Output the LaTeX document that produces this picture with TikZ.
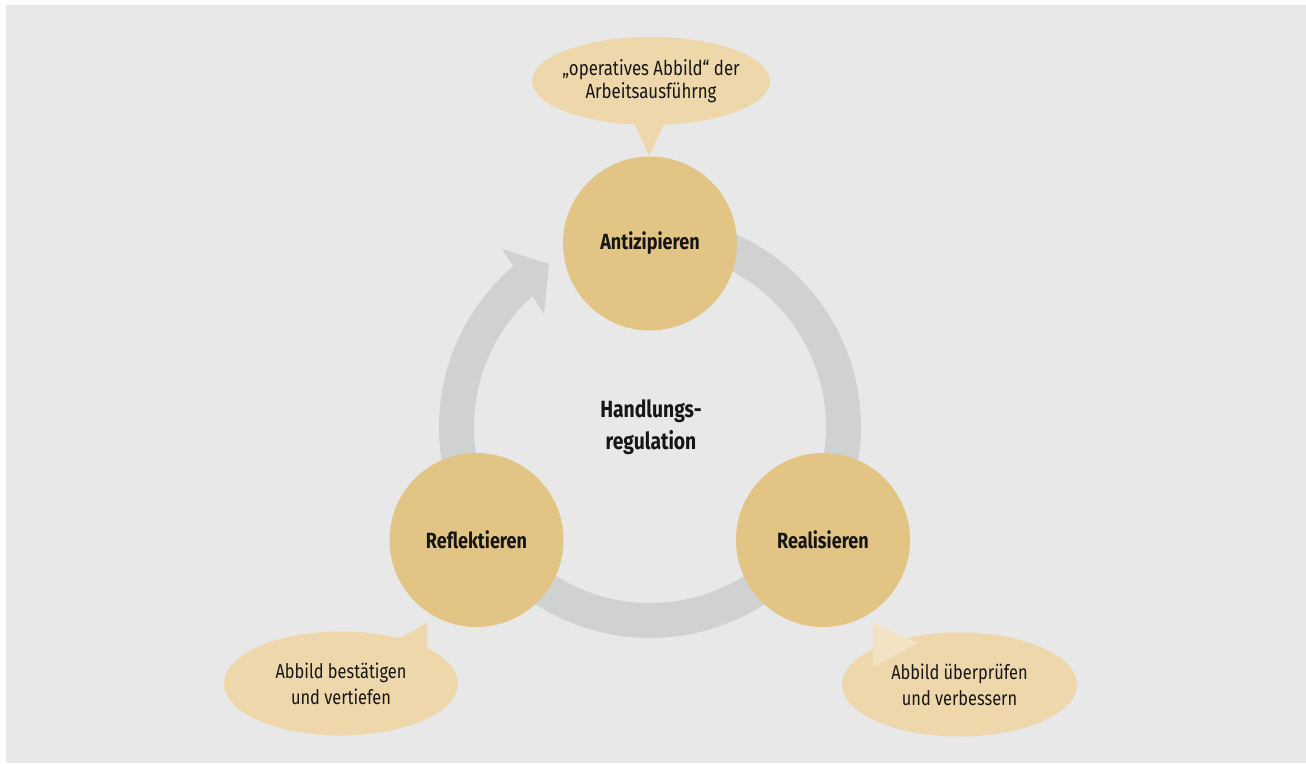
\documentclass[tikz,border=0pt]{standalone}
\usepackage{fontspec}
\setmainfont{Fira Sans}[FakeStretch=0.82]
\usetikzlibrary{shapes.geometric}
\definecolor{bgc}{HTML}{E8E8E8}
\definecolor{ringc}{HTML}{D0D2D1}
\definecolor{discc}{HTML}{E2C584}
\definecolor{bubblec}{HTML}{EDD7AB}
\definecolor{tailc}{HTML}{F3E3C4}
\definecolor{txtc}{HTML}{161616}
\begin{document}
\begin{tikzpicture}[x=1pt,y=1pt,
  disc/.style={circle,fill=discc,minimum size=174,inner sep=0pt,text=txtc,
    font=\bfseries\fontsize{22}{26}\selectfont},
  bubble/.style={ellipse,fill=bubblec,inner sep=0pt,text=txtc,align=center},
  bubtxt/.style={font=\fontsize{20}{26}\selectfont},
  toptxt/.style={align=center,text=txtc,font=\fontsize{20.5}{23}\selectfont},
  ringline/.style={draw=ringc,line width=35pt},
  centertxt/.style={align=center,text=txtc,font=\bfseries\fontsize{23.5}{32}\selectfont}]
\useasboundingbox (0,0) rectangle (1306,-763);
\fill[white] (0,0) rectangle (1306,-763);
\fill[bgc] (6,-5) rectangle (1306,-763);
% ring
\coordinate (rc) at (650,-427);
\draw[ringline] (rc) ++(90:193.5) arc[start angle=90,end angle=-230,radius=193.5];
\fill[ringc] (549,-264) -- (502,-249) -- (544,-314) -- cycle;
% bubbles
\fill[bubblec] (651,-81) ellipse[x radius=119,y radius=44];
\node[toptxt] (b1) at (651,-81) {„operatives Abbild“ der\\Arbeitsausführng};
\fill[bubblec] (633,-120) -- (666,-120) -- (649,-156) -- cycle;
\node[bubble,minimum width=234,minimum height=104,bubtxt] (b2) at (341,-683.5) {Abbild bestätigen\\und vertiefen};
\fill[bubblec] (394,-641) -- (427,-623) -- (427,-650) -- cycle;
\node[bubble,minimum width=235,minimum height=104,bubtxt] (b3) at (959.5,-684.5) {Abbild überprüfen\\und verbessern};
\fill[tailc] (873,-623) -- (918,-643) -- (873,-667) -- cycle;
% discs
\node[disc] (anti) at (650,-243.5) {Antizipieren};
\node[disc] (refl) at (476.5,-540) {Reflektieren};
\node[disc] (real) at (823,-540) {Realisieren};
\node[centertxt] (hr) at (651,-427) {Handlungs-\\regulation};
\end{tikzpicture}
\end{document}
